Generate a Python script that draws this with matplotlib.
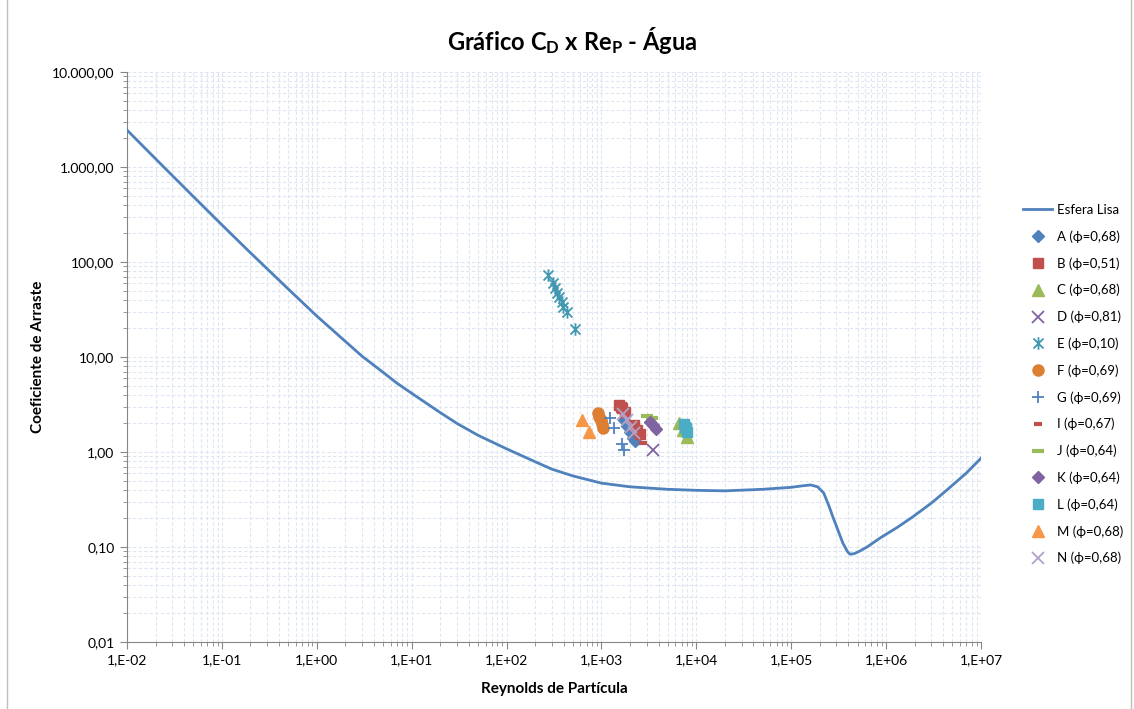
import matplotlib
matplotlib.use('Agg')
import matplotlib.pyplot as plt
from matplotlib.path import Path
from matplotlib.lines import Line2D
from matplotlib.ticker import LogLocator, NullFormatter

# === Fonts ===
plt.rcParams['font.family'] = ['Lato', 'DejaVu Sans']
plt.rcParams['mathtext.fontset'] = 'custom'
plt.rcParams['mathtext.rm'] = 'Lato:bold'
plt.rcParams['mathtext.default'] = 'rm'

# === Smooth sphere curve ===
re_esfera = [1e-2, 2e-2, 5e-2, 1e-1, 2e-1, 5e-1, 1, 2, 3, 5, 7, 10, 20, 30, 50, 100, 200, 300,
             500, 1e3, 2e3, 5e3, 1e4, 2e4, 5e4, 1e5, 1.3e5, 1.6e5, 1.9e5, 2.2e5, 2.5e5, 2.75e5,
             3e5, 3.5e5, 3.9e5, 4.15e5, 4.6e5, 5.2e5, 6.3e5, 8.6e5, 1.3e6, 1.9e6, 3e6, 4.4e6,
             7e6, 1e7]
cd_esfera = [2450, 1220, 489, 246, 125, 52, 27, 14.6, 10.2, 6.9, 5.3, 4.15, 2.6, 2.0, 1.5,
             1.08, 0.79, 0.66, 0.56, 0.47, 0.43, 0.405, 0.395, 0.39, 0.405, 0.425, 0.44,
             0.45, 0.43, 0.37, 0.27, 0.207, 0.165, 0.11, 0.09, 0.084, 0.085, 0.09, 0.10,
             0.124, 0.16, 0.207, 0.29, 0.40, 0.60, 0.86]

re_A = [1727, 1857, 1995, 2148, 2255]
cd_A = [2.17, 1.88, 1.62, 1.40, 1.31]
re_B = [1528, 1600, 1645, 1770, 2200, 2370, 2545]
cd_B = [3.13, 2.95, 2.90, 2.64, 1.92, 1.70, 1.55]
re_C = [6560, 7230, 7960]
cd_C = [2.02, 1.70, 1.44]
re_D = [3490]
cd_D = [1.05]
re_E = [273, 308, 324, 340, 357, 383, 393, 433, 526]
cd_E = [73, 60, 53, 47, 43, 38, 34, 30, 19.7]
re_F = [920, 950, 980, 1010, 1040]
cd_F = [2.55, 2.35, 2.15, 1.95, 1.80]
re_G = [1230, 1355, 1645, 1727]
cd_G = [2.28, 1.79, 1.21, 1.05]
re_I = [2300, 2500, 2735]
cd_I = [1.85, 1.55, 1.24]
re_J = [3010, 3400]
cd_J = [2.39, 2.28]
re_K = [3245, 3490, 3750]
cd_K = [2.07, 1.92, 1.75]
re_L = [7400, 7600, 7760, 7960]
cd_L = [1.97, 1.85, 1.79, 1.62]
re_M = [624, 738]
cd_M = [2.17, 1.62]
re_N = [1686, 1857, 2045, 2200]
cd_N = [2.51, 2.17, 1.83, 1.58]

# Excel-like asterisk marker
asterisk = Path([(-1, -1), (1, 1), (-1, 1), (1, -1), (0, -1.25), (0, 1.25)],
                [Path.MOVETO, Path.LINETO, Path.MOVETO, Path.LINETO, Path.MOVETO, Path.LINETO])

series = [
    (re_A, cd_A, 'A (ϕ=0,68)', 'D', '#4F81BD', 6),
    (re_B, cd_B, 'B (ϕ=0,51)', 's', '#C0504D', 7.5),
    (re_C, cd_C, 'C (ϕ=0,68)', '^', '#9BBB59', 8),
    (re_D, cd_D, 'D (ϕ=0,81)', 'x', '#8064A2', 8),
    (re_E, cd_E, 'E (ϕ=0,10)', asterisk, '#4198B0', 9),
    (re_F, cd_F, 'F (ϕ=0,69)', 'o', '#DD7F33', 8),
    (re_G, cd_G, 'G (ϕ=0,69)', '+', '#4F81BD', 9),
    (re_I, cd_I, 'I (ϕ=0,67)', '_', '#C0504D', 6),
    (re_J, cd_J, 'J (ϕ=0,64)', '_', '#9BBB59', 9),
    (re_K, cd_K, 'K (ϕ=0,64)', 'D', '#8064A2', 6.5),
    (re_L, cd_L, 'L (ϕ=0,64)', 's', '#4BACC6', 7.5),
    (re_M, cd_M, 'M (ϕ=0,68)', '^', '#F79646', 8),
    (re_N, cd_N, 'N (ϕ=0,68)', 'x', '#B3A2C7', 8),
]

fig = plt.figure(figsize=(11.34, 7.09), dpi=100)
ax = fig.add_axes([127 / 1134, 1 - 642 / 709, (981 - 127) / 1134, (642 - 72) / 709])

ax.plot(re_esfera, cd_esfera, color='#4F81BD', lw=2, label='Esfera Lisa', zorder=3)

for re, cd, label, mk, col, ms in series:
    lined = mk in ('x', '+', '_') or mk is asterisk
    if lined:
        ax.plot(re, cd, ls='none', marker=mk, ms=ms, mec=col, mfc=col,
                mew=3 if mk == '_' else 1.3, label=label, zorder=4)
    else:
        ax.plot(re, cd, ls='none', marker=mk, ms=ms, mec=col, mfc=col,
                label=label, zorder=4)

ax.set_xscale('log')
ax.set_yscale('log')
ax.set_xlim(1e-2, 1e7)
ax.set_ylim(1e-2, 1e4)

xticks = [10.0 ** k for k in range(-2, 8)]
xlabels = ['1,E-02', '1,E-01', '1,E+00', '1,E+01', '1,E+02', '1,E+03',
           '1,E+04', '1,E+05', '1,E+06', '1,E+07']
yticks = [10.0 ** k for k in range(-2, 5)]
ylabels = ['0,01', '0,10', '1,00', '10,00', '100,00', '1.000,00', '10.000,00']
ax.set_xticks(xticks, xlabels, fontsize=10)
ax.set_yticks(yticks, ylabels, fontsize=10)
ax.xaxis.set_minor_locator(LogLocator(base=10, subs=range(2, 10), numticks=30))
ax.yaxis.set_minor_locator(LogLocator(base=10, subs=range(2, 10), numticks=30))
ax.xaxis.set_minor_formatter(NullFormatter())
ax.yaxis.set_minor_formatter(NullFormatter())
ax.tick_params(which='major', length=5, color='#868686', pad=4)
ax.tick_params(which='minor', length=3, color='#868686')

ax.grid(which='both', color='#DDE6F2', linestyle=(0, (3, 2)), linewidth=0.8)
ax.set_axisbelow(True)
for s in ['top', 'right']:
    ax.spines[s].set_visible(False)
for s in ['left', 'bottom']:
    ax.spines[s].set_color('#868686')

fig.text(572 / 1134, 1 - 40 / 709, r'Gráfico C$_\mathrm{D}$ x Re$_\mathrm{P}$ - Água',
         fontsize=17, fontweight='bold', ha='center', va='center')
ax.set_xlabel('Reynolds de Partícula', fontsize=11, fontweight='bold', labelpad=11)
ax.set_ylabel('Coeficiente de Arraste', fontsize=11, fontweight='bold', labelpad=5)

ax.legend(loc='upper left', bbox_to_anchor=(1023 / 1134, 1 - 204 / 709),
          bbox_transform=fig.transFigure, frameon=False, fontsize=9.5,
          borderaxespad=0, borderpad=0, labelspacing=1.08, handlelength=2.2,
          handletextpad=0.4)

# chart area border
fig.add_artist(Line2D([7 / 1134, 7 / 1134], [0, 1], color='#BFBFBF', lw=1))
fig.add_artist(Line2D([1131 / 1134, 1131 / 1134], [0, 1], color='#BFBFBF', lw=1))

fig.savefig('out.png', dpi=100)
